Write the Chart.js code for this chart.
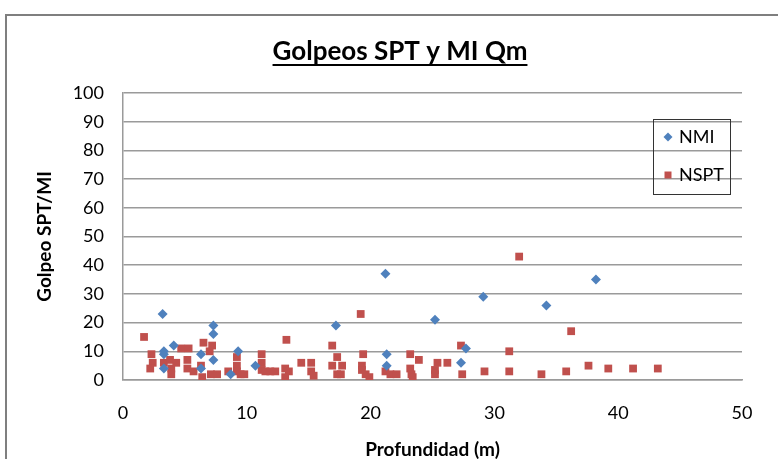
<!DOCTYPE html>
<html>
<head>
<meta charset="utf-8">
<script src="https://cdn.jsdelivr.net/npm/chart.js@4.4.1/dist/chart.umd.min.js"></script>
<style>
body{margin:0;background:#fff;overflow:hidden}
#wrap{position:relative;width:778px;height:459px;overflow:hidden}
#frame{position:absolute;left:5px;top:14px;width:900px;height:600px;border:2px solid #7f7f7f}
canvas{position:absolute;left:0;top:0}
</style>
</head>
<body>
<div id="wrap"><div id="frame"></div><canvas id="grafico" width="778" height="459"></canvas></div>
<script>
// datos
var titulo = 'Golpeos SPT y MI Qm';
var tituloX = 'Profundidad (m)';
var tituloY = 'Golpeo SPT/MI';

var nmiProf = [3.2, 3.3, 3.3, 3.3, 4.1, 6.3, 6.3, 7.3, 7.3, 7.3, 8.7, 9.3, 10.7, 17.2, 21.2, 21.3, 21.3, 25.2, 27.3, 27.7, 29.1, 34.2, 38.2];
var nmiGolpes = [23, 10, 9, 4, 12, 9, 4, 19, 16, 7, 2, 10, 5, 19, 37, 9, 5, 21, 6, 11, 29, 26, 35];

var nsptProf = [1.7, 2.3, 2.4, 2.2, 3.3, 3.8, 3.9, 3.9, 4.3, 4.7, 5.3, 5.2, 5.2, 5.7, 6.3, 6.5, 6.4, 7.0, 7.2, 7.1, 7.6, 8.5,
  9.2, 9.2, 9.2, 9.5, 9.8, 11.2, 11.2, 11.2, 11.5, 11.9, 12.3, 13.2, 13.1, 13.4, 13.1, 14.4, 15.2, 15.2, 15.4,
  16.9, 17.3, 16.9, 17.7, 17.3, 17.6, 19.2, 19.4, 19.3, 19.3, 19.6, 19.9, 21.2, 21.6, 22.1, 23.2, 23.2, 23.3, 23.4, 23.9,
  25.4, 25.2, 25.2, 26.2, 27.3, 27.4, 29.2, 31.2, 31.2, 32.0, 33.8, 35.8, 36.2, 37.6, 39.2, 41.2, 43.2];
var nsptGolpes = [15, 9, 6, 4, 6, 7, 4, 2, 6, 11, 11, 7, 4, 3, 5, 13, 1, 10, 12, 2, 2, 3,
  8, 5, 3, 2, 2, 9, 6, 3.5, 3, 3, 3, 14, 4, 3, 1, 6, 6, 3, 1.5,
  12, 8, 5, 5, 2, 2, 23, 9, 5, 3.5, 2, 1, 3, 2, 2, 9, 4, 2, 1, 7,
  6, 3.5, 2, 6, 12, 2, 3, 3, 10, 43, 2, 3, 17, 5, 4, 4, 4];

var colorNMI = '#4f81bd';
var colorNSPT = '#c0504d';
var fuente = 'Lato, "Liberation Sans", sans-serif';

function puntos(xs, ys){
	var res = [];
	for(var i=0; i<xs.length; i++){
		res.push({x: xs[i], y: ys[i]});
	}
	return res;
}

// titulo subrayado y leyenda dentro del area
var extras = {
	id: 'extras',
	afterDraw: function(chart){
		var ctx = chart.ctx;
		ctx.save();
		ctx.font = 'bold 26px ' + fuente;
		ctx.fillStyle = '#000';
		ctx.textAlign = 'center';
		ctx.textBaseline = 'alphabetic';
		ctx.fillText(titulo, 400, 60);
		var w = ctx.measureText(titulo).width;
		ctx.fillRect(400 - w/2, 64, w, 2);

		// leyenda
		ctx.strokeStyle = '#333';
		ctx.lineWidth = 1;
		ctx.strokeRect(653.5, 119.5, 77, 75);
		ctx.font = '18px ' + fuente;
		ctx.textAlign = 'left';
		ctx.textBaseline = 'middle';
		var filas = [137, 175];
		chart.data.datasets.forEach(function(ds, i){
			var y = filas[i];
			ctx.fillStyle = ds.backgroundColor;
			ctx.beginPath();
			if(ds.pointStyle === 'rectRot'){
				ctx.moveTo(668, y - 4.5);
				ctx.lineTo(672.5, y);
				ctx.lineTo(668, y + 4.5);
				ctx.lineTo(663.5, y);
				ctx.closePath();
			}
			else{
				ctx.rect(664.5, y - 3.5, 7, 7);
			}
			ctx.fill();
			ctx.fillStyle = '#000';
			ctx.fillText(ds.label, 679, y);
		});
		ctx.restore();
	}
};

var grafico = new Chart(document.getElementById('grafico'), {
	type: 'scatter',
	data: {
		datasets: [{
			label: 'NMI',
			data: puntos(nmiProf, nmiGolpes),
			pointStyle: 'rectRot',
			pointRadius: 5,
			backgroundColor: colorNMI,
			borderColor: colorNMI,
			borderWidth: 0
		},{
			label: 'NSPT',
			data: puntos(nsptProf, nsptGolpes),
			pointStyle: 'rect',
			pointRadius: 5.5,
			backgroundColor: colorNSPT,
			borderColor: colorNSPT,
			borderWidth: 0
		}]
	},
	options: {
		responsive: false,
		animation: false,
		layout: {padding: {left: 0, top: 93, right: 36, bottom: 0}},
		plugins: {
			legend: {display: false},
			title: {display: false},
			tooltip: {enabled: false}
		},
		scales: {
			x: {
				type: 'linear',
				min: 0,
				max: 50,
				ticks: {stepSize: 10, padding: 22, color: '#000', font: {family: fuente, size: 18}},
				grid: {display: false, drawTicks: false},
				border: {color: '#9a9a9a', width: 1.5},
				title: {display: true, text: tituloX, color: '#000', font: {family: fuente, size: 19, weight: 'bold'}, padding: {top: 0, bottom: -2}},
				afterFit: function(s){ s.height = 79; }
			},
			y: {
				min: 0,
				max: 100,
				ticks: {stepSize: 10, padding: 19, color: '#000', font: {family: fuente, size: 18}},
				grid: {color: '#9a9a9a', lineWidth: 1.5, drawTicks: false},
				border: {color: '#9a9a9a', width: 1.5},
				title: {display: true, text: tituloY, color: '#000', font: {family: fuente, size: 19, weight: 'bold'}, padding: {top: 33, bottom: 0}},
				afterFit: function(s){ s.width = 123; }
			}
		}
	},
	plugins: [extras]
});
</script>
</body>
</html>
